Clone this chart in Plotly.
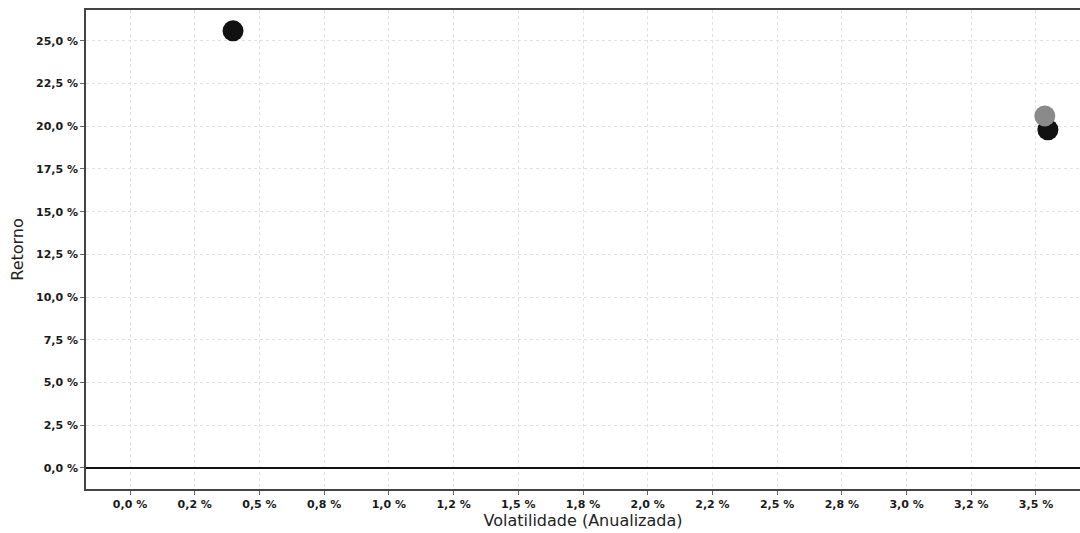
import plotly.graph_objects as go

# Data (percent units)
volatility = [0.398, 3.546, 3.534]
returns = [25.58, 19.79, 20.60]
colors = ["#111111", "#111111", "#8a8a8a"]

x_tickvals = [0.0, 0.25, 0.5, 0.75, 1.0, 1.25, 1.5, 1.75, 2.0, 2.25, 2.5, 2.75, 3.0, 3.25, 3.5]
x_ticktext = ["0,0 %", "0,2 %", "0,5 %", "0,8 %", "1,0 %", "1,2 %", "1,5 %", "1,8 %",
              "2,0 %", "2,2 %", "2,5 %", "2,8 %", "3,0 %", "3,2 %", "3,5 %"]
y_tickvals = [0.0, 2.5, 5.0, 7.5, 10.0, 12.5, 15.0, 17.5, 20.0, 22.5, 25.0]
y_ticktext = ["0,0 %", "2,5 %", "5,0 %", "7,5 %", "10,0 %", "12,5 %", "15,0 %",
              "17,5 %", "20,0 %", "22,5 %", "25,0 %"]

fig = go.Figure()
for xv, yv, c in zip(volatility, returns, colors):
    fig.add_trace(go.Scatter(
        x=[xv], y=[yv], mode="markers",
        marker=dict(size=21, color=c, line=dict(width=0)),
        showlegend=False,
    ))

fig.update_layout(
    width=1080, height=533,
    margin=dict(l=86, r=0, t=10, b=44),
    paper_bgcolor="white", plot_bgcolor="white",
    font=dict(family="DejaVu Sans", color="#222222"),
    showlegend=False,
)
fig.update_xaxes(
    range=[-0.17, 3.67],
    tickvals=x_tickvals, ticktext=x_ticktext,
    tickfont=dict(family="DejaVu Sans", size=11, weight="bold", color="#1a1a1a"),
    title=dict(text="Volatilidade (Anualizada)", font=dict(family="DejaVu Sans", size=16, color="#222222"), standoff=4),
    showgrid=True, gridcolor="#e2e2e2", griddash="dot", gridwidth=1,
    zeroline=False,
    showline=True, linecolor="#444444", linewidth=1.5, mirror=True,
    ticks="outside", ticklen=4, tickcolor="#666666",
)
fig.update_yaxes(
    range=[-1.23, 26.8],
    tickvals=y_tickvals, ticktext=y_ticktext,
    tickfont=dict(family="DejaVu Sans", size=11, weight="bold", color="#1a1a1a"),
    title=dict(text="Retorno", font=dict(family="DejaVu Sans", size=16, color="#222222"), standoff=8),
    showgrid=True, gridcolor="#e2e2e2", griddash="dot", gridwidth=1,
    zeroline=True, zerolinecolor="#111111", zerolinewidth=2,
    showline=True, linecolor="#444444", linewidth=1.5,
    ticks="outside", ticklen=4, tickcolor="#666666",
)

fig.write_html(
    "out.html",
    config={"displayModeBar": False},
    post_script="document.body.style.margin='0';document.body.style.overflow='hidden';",
)
